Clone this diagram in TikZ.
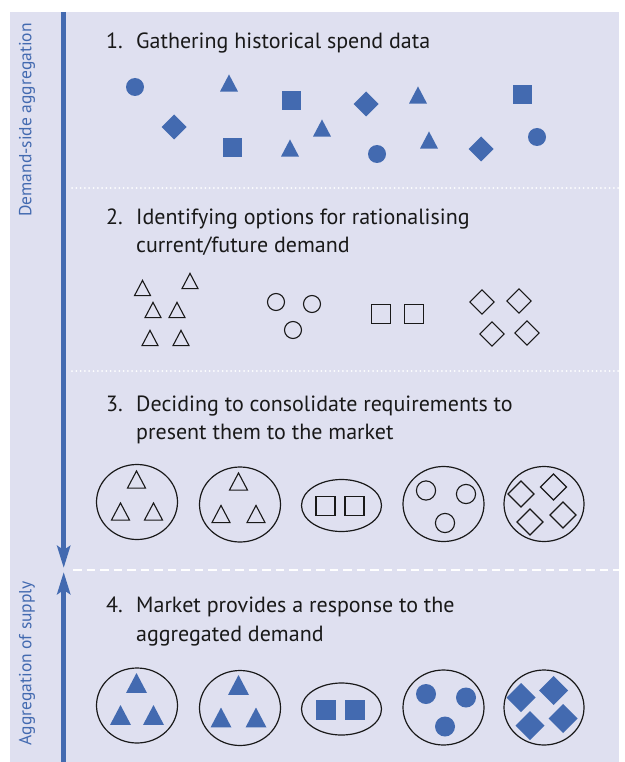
\documentclass[tikz,border=0pt]{standalone}
\usepackage{fontspec}
\setmainfont{PT Sans}
\newfontfamily\sidefont{PT Sans}
\usetikzlibrary{arrows.meta}

\definecolor{panel}{RGB}{223,224,240}
\definecolor{mblue}{RGB}{67,106,176}
\definecolor{ink}{RGB}{25,25,25}

\tikzset{
  solidshape/.style={fill=mblue, draw=none},
  openshape/.style={draw=ink, line width=1.1pt, fill=none, line join=miter},
  tri/.pic={\path[pic actions] (-#1,0.95*#1) -- (#1,0.95*#1) -- (0,-0.95*#1) -- cycle;},
  sq/.pic={\path[pic actions] (-#1,-#1) rectangle (#1,#1);},
  dia/.pic={\path[pic actions] (0,-#1) -- (#1,0) -- (0,#1) -- (-#1,0) -- cycle;},
  blob/.pic={\path[pic actions] (0,0) circle [radius=#1];},
  steptext/.style={anchor=base west, inner sep=0pt, font=\fontsize{22}{28}\selectfont, text=ink},
  sidetext/.style={rotate=90, inner sep=0pt, font=\sidefont\fontsize{17.5}{20}\selectfont, text=mblue},
  ring/.style={draw=ink, line width=1.2pt},
  dotrule/.style={white, line width=2pt, line cap=round, dash pattern=on 0pt off 4.3pt},
  dashrule/.style={white, line width=2pt, dash pattern=on 8.5pt off 5pt},
  flow/.style={mblue, line width=5pt, -{Stealth[length=22pt, width=13pt, inset=4pt]}},
}

% Grouped requirements: ellipses with their contents
\newcommand\clusterrow[5]{%
  \draw[ring] (137,502) ellipse [x radius=40.5, y radius=37.5];
  \draw[ring] (240,504.5) ellipse [x radius=40.5, y radius=37.5];
  \draw[ring] (341.5,505.5) ellipse [x radius=40, y radius=26];
  \draw[ring] (443.5,504) ellipse [x radius=40.5, y radius=37.5];
  \draw[ring] (544,504) ellipse [x radius=40, y radius=37.5];
  \foreach \p in {(136.5,479.5),(120.5,511.5),(153.5,511.5),
                  (238.5,481.5),(221,514),(256,514)}
    \pic[#1] at \p {tri=#2};
  \foreach \p in {(325.5,506),(354.5,506)}
    \pic[#1] at \p {sq=#3};
  \foreach \p in {(426,490.5),(466,494),(445,523)}
    \pic[#1] at \p {blob=#4};
  \foreach \p in {(521,494),(553.5,487),(530,522),(563,515)}
    \pic[#1] at \p {dia=#5};
}

\begin{document}
\begin{tikzpicture}[x=1pt, y=-1pt]
  \useasboundingbox (0,0) rectangle (624,762);
  \fill[panel] (10,12) rectangle (619,762);

  % section separators
  \coordinate (r1a) at (72,188);  \coordinate (r1b) at (619,188);
  \coordinate (r2a) at (72,371);  \coordinate (r2b) at (619,371);
  \coordinate (r3a) at (73,570);  \coordinate (r3b) at (619,570);
  \draw[dotrule] (r1a) -- (r1b);
  \draw[dotrule] (r2a) -- (r2b);
  \draw[dashrule] (r3a) -- (r3b);

  % aggregation arrows
  \coordinate (top) at (63.7,12);
  \coordinate (meetd) at (63.7,568);
  \coordinate (meetu) at (63.7,572);
  \coordinate (bottom) at (63.7,762);
  \draw[flow] (top) -- (meetd);
  \draw[flow] (bottom) -- (meetu);

  \node[sidetext] (demandlab) at (27,120) {Demand-side aggregation};
  \node[sidetext] (supplylab) at (27,663) {Aggregation of supply};

  % step headings
  \node[steptext] (n1) at (106,49) {1.};
  \node[steptext] (s1) at (136,49) {Gathering historical spend data};
  \node[steptext] (n2) at (106,224) {2.};
  \node[steptext] (s2a) at (136,224) {Identifying options for rationalising};
  \node[steptext] (s2b) at (136,252) {current/future demand};
  \node[steptext] (n3) at (106,411) {3.};
  \node[steptext] (s3a) at (136,411) {Deciding to consolidate requirements to};
  \node[steptext] (s3b) at (136,439) {present them to the market};
  \node[steptext] (n4) at (106,612) {4.};
  \node[steptext] (s4a) at (136,612) {Market provides a response to the};
  \node[steptext] (s4b) at (136,641) {aggregated demand};

  % step 1: scattered spend items
  \pic[solidshape] at (135,87) {blob=9};
  \pic[solidshape] at (229,83) {tri=9};
  \pic[solidshape] at (291.5,100.5) {sq=9.5};
  \pic[solidshape] at (174,127) {dia=12.5};
  \pic[solidshape] at (232.5,147.5) {sq=9.5};
  \pic[solidshape] at (290,148) {tri=9};
  \pic[solidshape] at (322,128) {tri=9};
  \pic[solidshape] at (366,104) {dia=12.5};
  \pic[solidshape] at (418,95) {tri=9};
  \pic[solidshape] at (522.5,94.5) {sq=9.5};
  \pic[solidshape] at (377,154) {blob=9};
  \pic[solidshape] at (429,140) {tri=9};
  \pic[solidshape] at (481,149) {dia=12.5};
  \pic[solidshape] at (537,137) {blob=9};

  % step 2: options sorted by kind
  \foreach \p in {(142.5,288),(190,281),(153,310),(177,310),(150,338),(181,338)}
    \pic[openshape] at \p {tri=8};
  \foreach \p in {(276,302),(312,304),(293,330)}
    \pic[openshape] at \p {blob=8.5};
  \foreach \p in {(381,314),(414,314)}
    \pic[openshape] at \p {sq=9.5};
  \foreach \p in {(482,302),(519,301),(492,334),(527,333)}
    \pic[openshape] at \p {dia=12.2};

  % step 3: consolidated requirements
  \clusterrow{openshape}{9}{9.5}{9.6}{13}

  % step 4: market response
  \begin{scope}[shift={(0,203.5)}]
    \clusterrow{solidshape}{10.5}{10}{10}{14.5}
  \end{scope}
\end{tikzpicture}
\end{document}
